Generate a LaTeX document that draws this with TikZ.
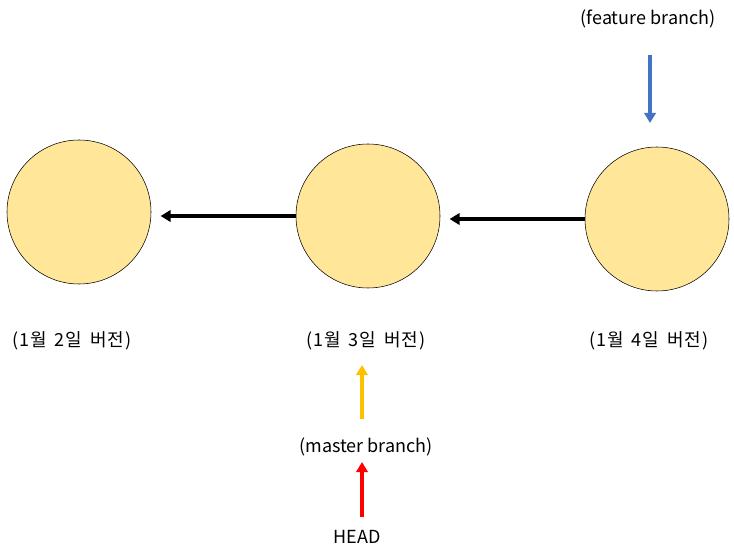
\documentclass[tikz,border=0pt]{standalone}
\usepackage{fontspec}
\setmainfont{Noto Sans CJK KR}
\newfontfamily\datefont[WordSpace=1.5,LetterSpace=6]{Noto Sans CJK KR}
\usetikzlibrary{arrows.meta}
\definecolor{commitfill}{HTML}{FFE699}
\definecolor{masterclr}{HTML}{FFC000}
\definecolor{featureclr}{HTML}{4472C4}
\begin{document}
\begin{tikzpicture}[x=0.75pt,y=-0.75pt,
    commit/.style={circle,draw=black,fill=commitfill,minimum size=108pt,inner sep=0pt},
    lbl/.style={font=\fontsize{13.5}{16}\selectfont,inner sep=0pt},
    datelbl/.style={lbl,font=\datefont\fontsize{13.5}{16}\selectfont},
    ptr/.style={-{Triangle[length=7.5pt,width=8.5pt]},line width=2.5pt}]
    \useasboundingbox (0,0) rectangle (734,559);

    \node[commit] (C1) at (79,212) {};
    \node[commit] (C2) at (368,216) {};
    \node[commit] (C3) at (657,219) {};

    \node[datelbl] (L1) at (72,341) {(1월 2일 버전)};
    \node[datelbl] (L2) at (366,341) {(1월 3일 버전)};
    \node[datelbl] (L3) at (649,341) {(1월 4일 버전)};
    \node[lbl] (master) at (366,447) {(master branch)};
    \node[lbl] (head) at (357,537) {HEAD};
    \node[lbl] (feature) at (648,19) {(feature branch)};

    \coordinate (m0) at (362,419);
    \coordinate (m1) at (362,365);
    \coordinate (h0) at (362,517);
    \coordinate (h1) at (362,462);
    \coordinate (f0) at (650,55);
    \coordinate (f1) at (650,123);

    \draw[ptr, shorten >=7pt] (C2.west) -- (C2.west -| C1.east);
    \draw[ptr, shorten >=7pt] (C3.west) -- (C3.west -| C2.east);

    \draw[ptr, masterclr] (m0) -- (m1);
    \draw[ptr, red] (h0) -- (h1);
    \draw[ptr, featureclr] (f0) -- (f1);
\end{tikzpicture}
\end{document}
